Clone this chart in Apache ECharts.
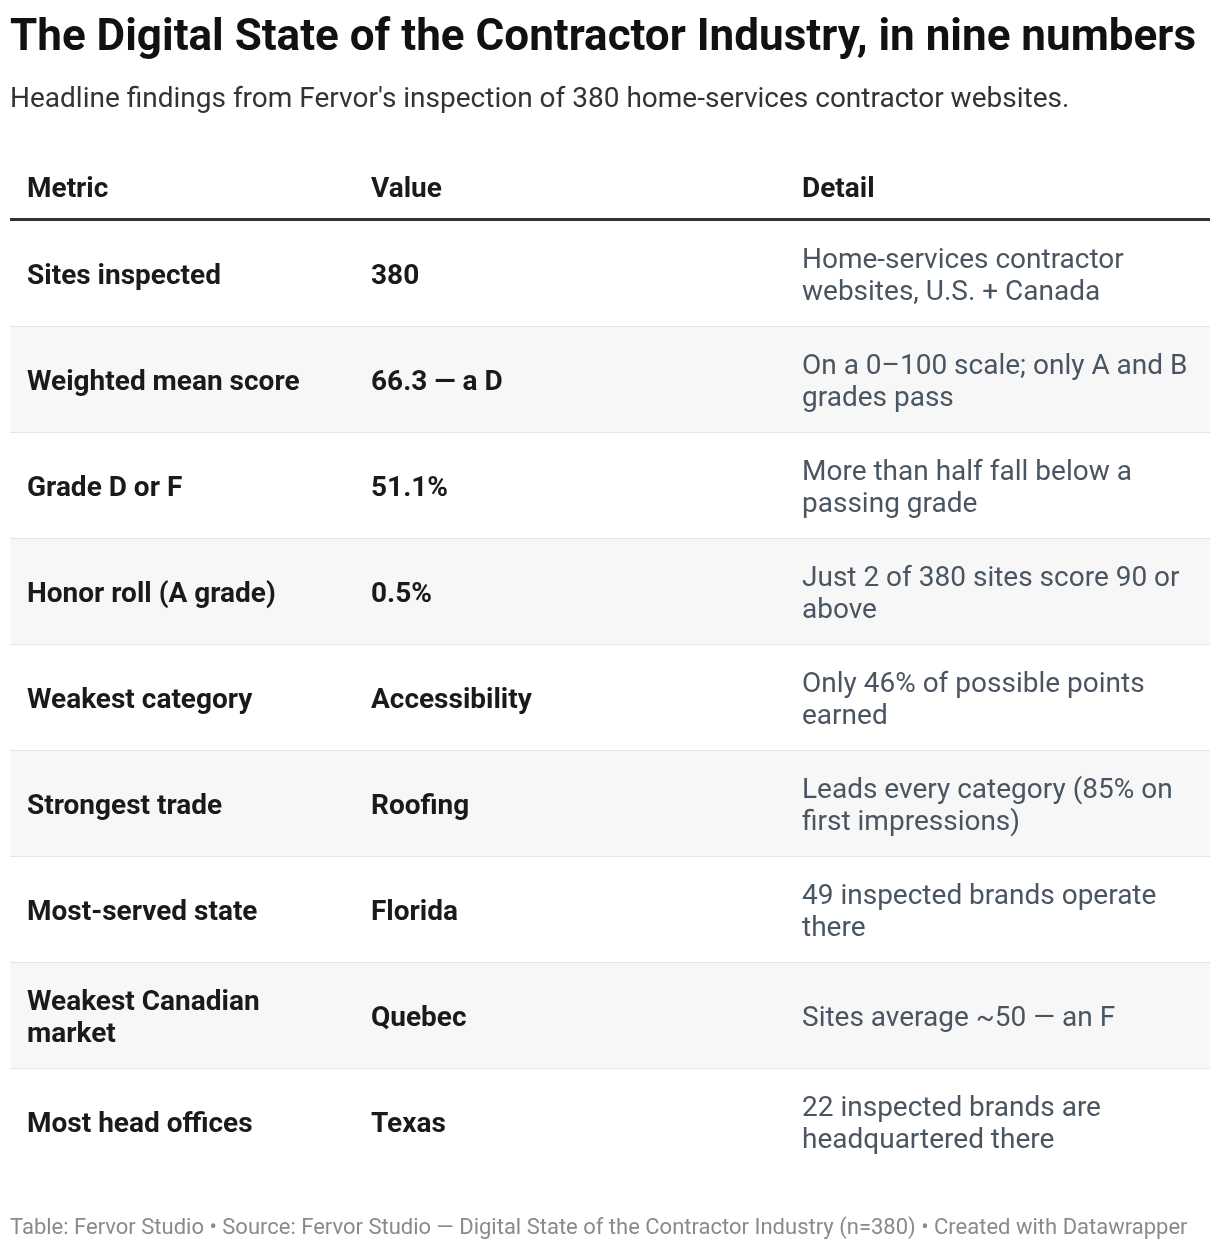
<!DOCTYPE html>
<html>
<head>
<meta charset="utf-8">
<title>The Digital State of the Contractor Industry, in nine numbers</title>
<script src="https://cdn.jsdelivr.net/npm/echarts@6/dist/echarts.min.js"></script>
<style>
html, body { margin: 0; padding: 0; background: #fff; }
#chart { width: 1220px; height: 1250px; }
</style>
</head>
<body>
<div id="chart"></div>
<script>
var headers = ["Metric", "Value", "Detail"];
var metrics = [
    "Sites inspected",
    "Weighted mean score",
    "Grade D or F",
    "Honor roll (A grade)",
    "Weakest category",
    "Strongest trade",
    "Most-served state",
    "Weakest Canadian\nmarket",
    "Most head offices"
];
var values = [
    "380",
    "66.3 \u2014 a D",
    "51.1%",
    "0.5%",
    "Accessibility",
    "Roofing",
    "Florida",
    "Quebec",
    "Texas"
];
var details = [
    "Home-services contractor\nwebsites, U.S. + Canada",
    "On a 0\u2013100 scale; only A and B\ngrades pass",
    "More than half fall below a\npassing grade",
    "Just 2 of 380 sites score 90 or\nabove",
    "Only 46% of possible points\nearned",
    "Leads every category (85% on\nfirst impressions)",
    "49 inspected brands operate\nthere",
    "Sites average ~50 \u2014 an F",
    "22 inspected brands are\nheadquartered there"
];

var FONT = "Roboto, 'Noto Sans', sans-serif";
var TABLE_W = 1200;
var colStart = [17, 361, 792]; // text start of each column, in table units

var chart = echarts.init(document.getElementById("chart"));

function cellText(x, y, text, bold, color) {
    return {
        type: "text",
        style: {
            text: text,
            x: x,
            y: y,
            fill: color,
            fontFamily: FONT,
            fontSize: 28,
            fontWeight: bold ? 700 : 400,
            lineHeight: 32,
            align: "left",
            verticalAlign: "middle"
        }
    };
}

var option = {
    animation: false,
    backgroundColor: "#fff",
    title: [{
        text: "The Digital State of the Contractor Industry, in nine numbers",
        left: 10,
        top: 17,
        padding: 0,
        textStyle: { fontFamily: FONT, fontSize: 44, fontWeight: 700, color: "#111" }
    }, {
        text: "Headline findings from Fervor's inspection of 380 home-services contractor websites.",
        left: 10,
        top: 86,
        padding: 0,
        textStyle: { fontFamily: FONT, fontSize: 28, fontWeight: 400, color: "#333" }
    }, {
        text: "Table: Fervor Studio \u2022 Source: Fervor Studio \u2014 Digital State of the Contractor Industry (n=380) \u2022 Created with Datawrapper",
        left: 10,
        top: 1217,
        padding: 0,
        textStyle: { fontFamily: FONT, fontSize: 22, fontWeight: 400, color: "#8a8a8a" }
    }],
    grid: { left: 10, right: 10, top: 221, bottom: 75 },
    xAxis: { type: "value", min: 0, max: TABLE_W, show: false },
    yAxis: { type: "category", data: metrics, inverse: true, show: false },
    series: [{
        type: "custom",
        clip: false,
        data: metrics.map(function (m, i) { return [0, i]; }),
        encode: { x: 0, y: 1 },
        renderItem: function (params, api) {
            var i = api.value(1);
            var c = api.coord([0, i]);
            var h = api.size([0, 1])[1];
            var x0 = c[0];
            var yc = c[1] + 3;
            var top = c[1] - h / 2;
            var w = api.coord([TABLE_W, i])[0] - x0;
            var kids = [{
                type: "rect",
                shape: { x: x0, y: top, width: w, height: h },
                style: { fill: i % 2 ? "#f7f7f7" : "#ffffff" }
            }];
            if (i < metrics.length - 1) {
                kids.push({
                    type: "rect",
                    shape: { x: x0, y: top + h - 1, width: w, height: 2 },
                    style: { fill: "#e5e5e5" }
                });
            }
            kids.push(cellText(x0 + colStart[0], yc, metrics[i], true, "#1a1a1a"));
            kids.push(cellText(x0 + colStart[1], yc, values[i], true, "#1a1a1a"));
            kids.push(cellText(x0 + colStart[2], yc, details[i], false, "#4a5562"));
            if (i === 0) {
                for (var k = 0; k < headers.length; k++) {
                    kids.push(cellText(x0 + colStart[k], top - 31, headers[k], true, "#1a1a1a"));
                }
                kids.push({
                    type: "rect",
                    shape: { x: x0, y: top - 3, width: w, height: 3 },
                    style: { fill: "#333333" }
                });
            }
            return { type: "group", children: kids };
        }
    }]
};

chart.setOption(option);
</script>
</body>
</html>
